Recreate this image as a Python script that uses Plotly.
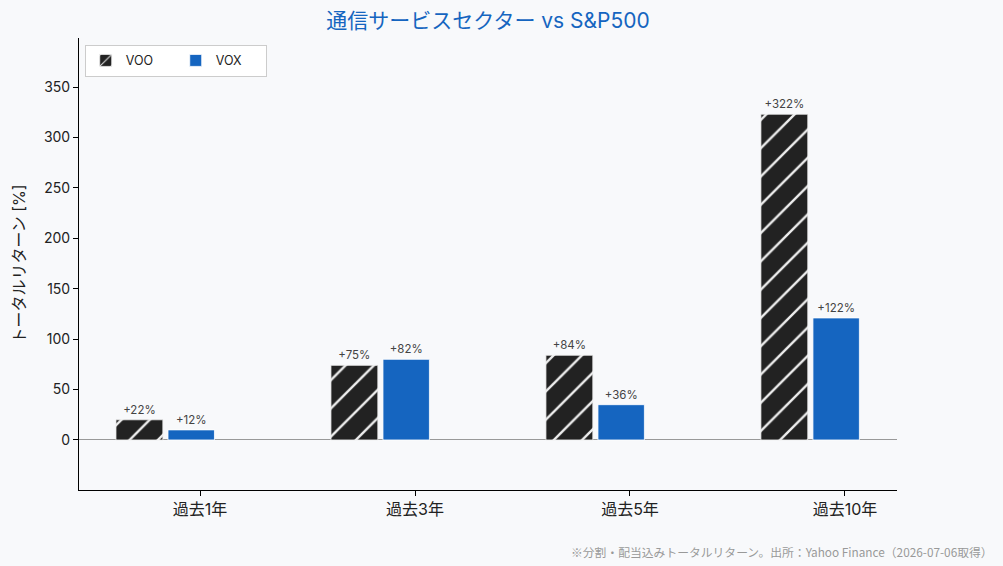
import plotly.graph_objects as go

periods = ["過去1年", "過去3年", "過去5年", "過去10年"]
voo_values = [20, 74, 84, 323]
vox_values = [10, 80, 35, 121]
voo_labels = ["+22%", "+75%", "+84%", "+322%"]
vox_labels = ["+12%", "+82%", "+36%", "+122%"]
y_ticks = [0, 50, 100, 150, 200, 250, 300, 350]

FONT = "Inter, Noto Sans CJK JP"
JP = "Noto Sans CJK JP"
BG = "#f8f9fb"
idx = list(range(len(periods)))

fig = go.Figure()
fig.add_trace(go.Bar(
    name="VOO", x=idx, y=voo_values, text=voo_labels,
    textposition="outside", cliponaxis=False,
    textfont=dict(size=11.5, color="#444444", family=FONT),
    width=0.218, offset=-0.391,
    marker=dict(color="#222222", line=dict(color="#eeeeee", width=0.8),
                pattern=dict(shape="/", fgcolor="#eeeeee", bgcolor="#222222",
                             size=20, solidity=0.12, fgopacity=1)),
))
fig.add_trace(go.Bar(
    name="VOX", x=idx, y=vox_values, text=vox_labels,
    textposition="outside", cliponaxis=False,
    textfont=dict(size=11.5, color="#444444", family=FONT),
    width=0.216, offset=-0.149,
    marker=dict(color="#1565c0", line=dict(color="#ffffff", width=0.8)),
))

fig.update_layout(
    width=1003, height=566,
    margin=dict(l=79, r=106, t=38, b=76),
    paper_bgcolor=BG, plot_bgcolor=BG,
    barmode="overlay",
    font=dict(family=FONT, size=14, color="#222222"),
    title=dict(text="通信サービスセクター vs S&P500", x=0.5, xref="paper",
               y=0.963, yanchor="middle",
               font=dict(size=21, color="#1565c0", family=FONT)),
    showlegend=True,
    legend=dict(orientation="h", x=0.007, y=0.985, xanchor="left", yanchor="top",
                bgcolor="#ffffff", bordercolor="#cccccc", borderwidth=1,
                font=dict(size=12.5, color="#222222"), entrywidth=45,
                traceorder="normal"),
    xaxis=dict(range=[-0.563, 3.242], tickvals=idx, ticktext=periods,
               showline=True, linecolor="#000000", linewidth=1,
               ticks="outside", ticklen=5, tickcolor="#000000",
               showgrid=False, zeroline=False, tickfont=dict(size=16)),
    yaxis=dict(range=[-49.6, 398.6], tickvals=y_ticks,
               showline=True, linecolor="#000000", linewidth=1,
               ticks="outside", ticklen=5, tickcolor="#000000",
               showgrid=False, zeroline=True, zerolinecolor="#999999",
               zerolinewidth=1.2, tickfont=dict(size=14),
               title=dict(text="トータルリターン [%]", font=dict(size=16), standoff=14)),
    annotations=[dict(text="※分割・配当込みトータルリターン。出所：Yahoo Finance（2026-07-06取得）",
                      xref="paper", yref="paper", x=1.12, y=-0.135,
                      xanchor="right", yanchor="middle", showarrow=False,
                      font=dict(size=11.8, color="#999999", family=JP))],
)

fig.write_html("out.html")
